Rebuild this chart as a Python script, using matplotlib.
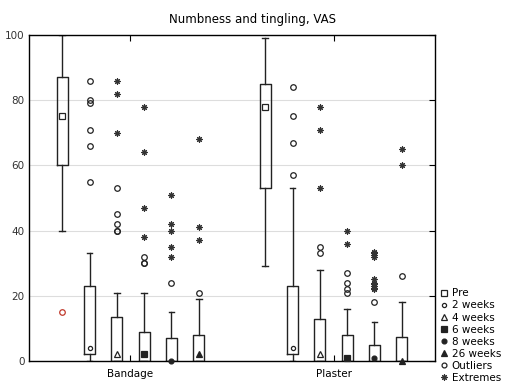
import matplotlib
matplotlib.use("Agg")
import matplotlib.pyplot as plt
from matplotlib.lines import Line2D
import numpy as np

groups = ["Bandage", "Plaster"]
times = ["Pre", "2 weeks", "4 weeks", "6 weeks", "8 weeks", "26 weeks"]

# box statistics per group: (q1, median, q3, whisker low, whisker high)
bandage_q1 = [60, 2, 0, 0, 0, 0]
bandage_med = [75, 4, 2, 2, 0, 2]
bandage_q3 = [87, 23, 13.5, 9, 7, 8]
bandage_lo = [40, 0, 0, 0, 0, 0]
bandage_hi = [100, 33, 21, 21, 15, 19]

plaster_q1 = [53, 2, 0, 0, 0, 0]
plaster_med = [78, 4, 2, 1, 1, 0]
plaster_q3 = [85, 23, 13, 8, 5, 7.5]
plaster_lo = [29, 0, 0, 0, 0, 0]
plaster_hi = [99, 53, 28, 16, 12, 18]

bandage_outliers = [[15], [86, 80, 79, 71, 66, 55], [53, 45, 42, 40, 40],
                    [32, 30, 30], [24], [21]]
bandage_extremes = [[], [], [86, 82, 70], [78, 64, 47, 38],
                    [51, 42, 40, 35, 32], [68, 41, 37]]
plaster_outliers = [[], [84, 75, 67, 57], [35, 33], [27, 24, 22, 21], [18], [26]]
plaster_extremes = [[], [], [78, 71, 53], [40, 36],
                    [33.5, 33, 32.5, 32, 25, 24, 23.5, 23, 22.5, 22], [65, 60]]

markers = ["s", "o", "^", "s", "o", "^"]
filled = [False, False, False, True, True, True]
msizes = [4, 3, 4, 4.5, 3.5, 4]

fig = plt.figure(figsize=(5.06, 3.84), dpi=100)
ax = fig.add_axes([0.0573, 0.0599, 0.8024, 0.849])

step = 0.1345
width = 0.055
ink = "#222222"

stats_sets = [
    (bandage_q1, bandage_med, bandage_q3, bandage_lo, bandage_hi, bandage_outliers, bandage_extremes),
    (plaster_q1, plaster_med, plaster_q3, plaster_lo, plaster_hi, plaster_outliers, plaster_extremes),
]

for g, (q1, med, q3, lo, hi, outl, extr) in enumerate(stats_sets):
    center = g + 1
    pos = [center + (i - 2.5) * step for i in range(len(times))]
    stats = []
    for i in range(len(times)):
        stats.append(dict(q1=q1[i], med=med[i], q3=q3[i], whislo=lo[i],
                          whishi=hi[i], fliers=[]))
    ax.bxp(stats, positions=pos, widths=width, capwidths=width * 0.5,
           showfliers=False,
           boxprops=dict(color=ink, linewidth=1.0),
           whiskerprops=dict(color=ink, linewidth=1.0),
           capprops=dict(color=ink, linewidth=1.0),
           medianprops=dict(linewidth=0))
    for i in range(len(times)):
        ax.plot(pos[i], med[i], marker=markers[i], ms=msizes[i],
                mfc=ink if filled[i] else "white", mec=ink, mew=0.9,
                zorder=5, clip_on=False)
        if outl[i]:
            col = "#c0392b" if i == 0 else ink
            ax.plot([pos[i]] * len(outl[i]), outl[i], "o", ms=4, mfc="none",
                    mec=col, mew=0.9, zorder=5)
        if extr[i]:
            ax.plot([pos[i]] * len(extr[i]), extr[i], marker=(8, 2, 0), ls="none",
                    ms=4.5, mec="#333333", mew=0.8, zorder=5)

ax.set_xlim(0.5, 2.5)
ax.set_ylim(0, 100)
ax.set_xticks([1, 2])
ax.set_xticklabels(groups, fontsize=7.5)
ax.set_yticks([0, 20, 40, 60, 80, 100])
ax.tick_params(axis="y", left=False, right=True, direction="in", length=4,
               labelsize=7.5, labelcolor="#333333", pad=3)
ax.tick_params(axis="x", top=True, bottom=True, direction="in", length=4, pad=6)
ax.grid(axis="y", color="#dddddd", linewidth=0.8)
ax.set_axisbelow(True)
for sp in ax.spines.values():
    sp.set_linewidth(1.0)
    sp.set_color("black")

fig.text(0.5, 0.95, "Numbness and tingling, VAS", ha="center", va="center",
         fontsize=8.5)

handles = []
for i in range(len(times)):
    handles.append(Line2D([], [], ls="none", marker=markers[i], ms=msizes[i],
                          mfc=ink if filled[i] else "white", mec=ink, mew=0.9))
handles.append(Line2D([], [], ls="none", marker="o", ms=3.5, mfc="none",
                      mec=ink, mew=0.9))
handles.append(Line2D([], [], ls="none", marker=(8, 2, 0), ms=4.5,
                      mec="#333333", mew=0.8))
fig.legend(handles, times + ["Outliers", "Extremes"], loc="lower left",
           bbox_to_anchor=(0.868, 0.0), frameon=False, fontsize=7.5,
           handlelength=0.8, handletextpad=0.3, labelspacing=0.2,
           borderpad=0.1, borderaxespad=0.0)

fig.savefig("out.png", dpi=100)
